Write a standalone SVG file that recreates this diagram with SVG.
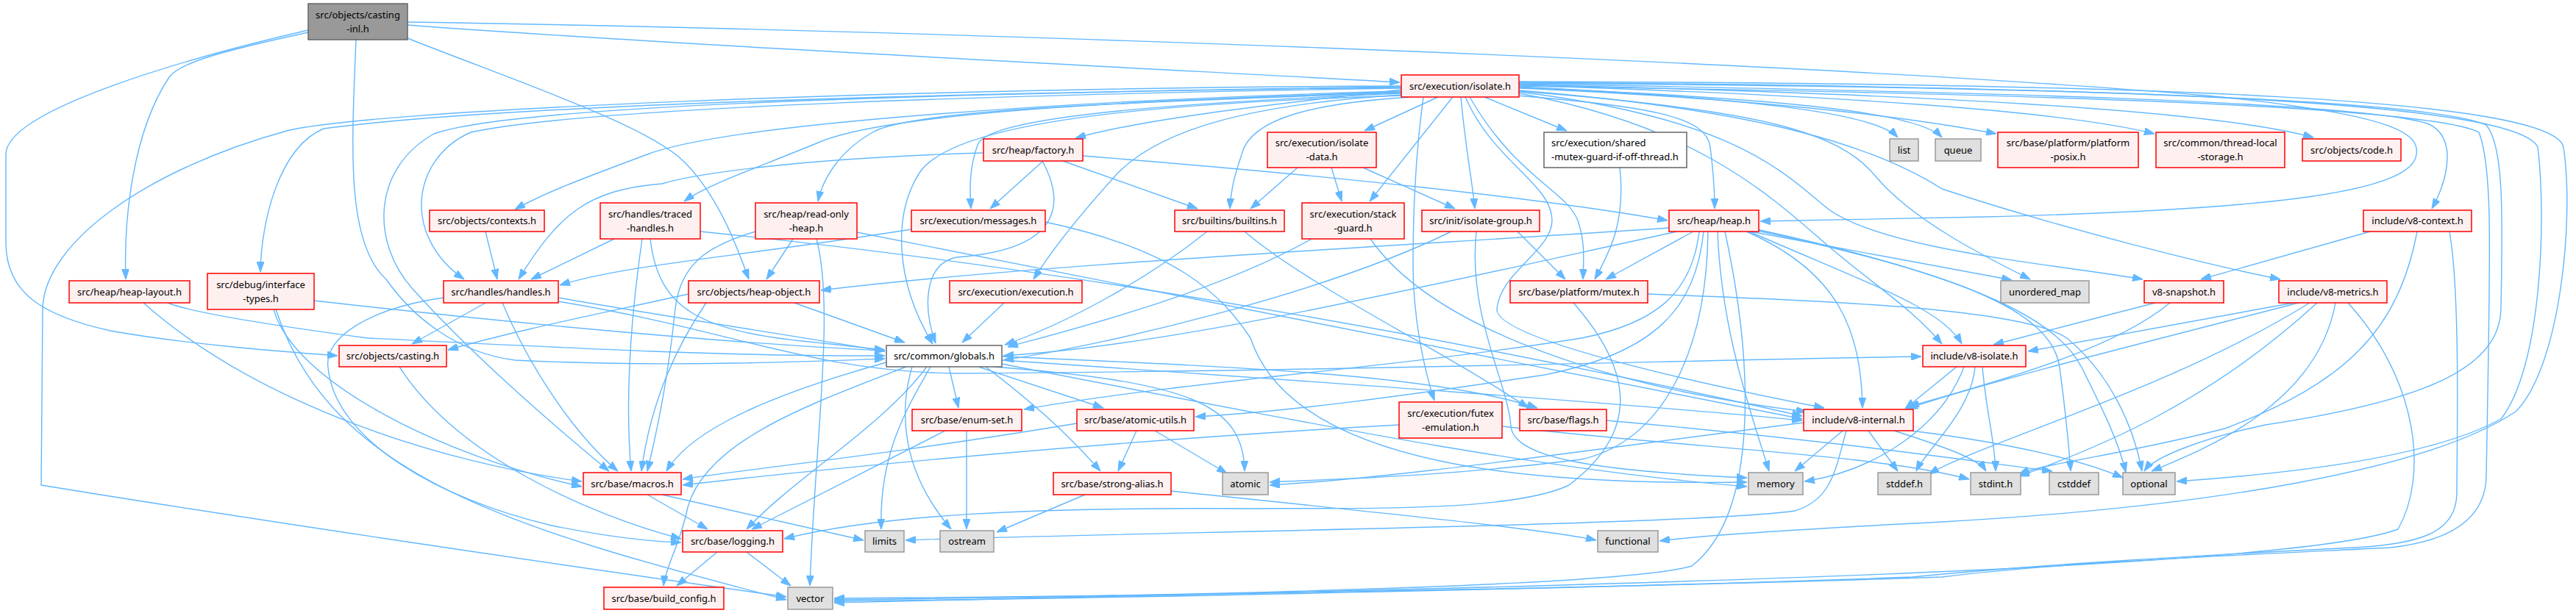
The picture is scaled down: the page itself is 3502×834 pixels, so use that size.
<svg xmlns="http://www.w3.org/2000/svg" width="3502" height="834" viewBox="0 0 3502 834">
<style>
.e path{fill:none;stroke:#63b8ff;stroke-width:1.4}
.r{fill:#fff0f0;stroke:#ff0000;stroke-width:1.5}
.g{fill:#e0e0e0;stroke:#999999;stroke-width:1.5}
.w{fill:#ffffff;stroke:#666666;stroke-width:1.5}
.root{fill:#999999;stroke:#666666;stroke-width:1.5}
text{font-family:"Noto Sans","Liberation Sans",sans-serif;font-size:13px;fill:#000;text-anchor:middle}
text.l{text-anchor:start}
</style>
<defs>
<marker id="a" markerWidth="14" markerHeight="10" refX="14" refY="5" orient="auto" markerUnits="userSpaceOnUse"><path d="M0,0 L14,5 L0,10 z" fill="#63b8ff" stroke="#63b8ff" stroke-width="1"/></marker>
</defs>
<rect width="3502" height="834" fill="#ffffff"/>
<g id="edges" class="e">
<path marker-end="url(#a)" d="M419,41 C250,80 8,150 8,210 L8,330 C8,400 60,430 150,450 C250,468 380,478 459,484"/>
<path marker-end="url(#a)" d="M419,44 C300,70 245,85 230,105 C180,180 168,300 171,380"/>
<path marker-end="url(#a)" d="M484,54 C478,200 470,330 525,380 C560,430 620,480 700,490 C900,500 1100,492 1203,488"/>
<path marker-end="url(#a)" d="M554,52 C700,110 880,170 930,220 C975,265 1000,330 1018,380"/>
<path marker-end="url(#a)" d="M554,34 C900,60 1500,90 1903,112"/>
<path marker-end="url(#a)" d="M554,30 C1200,40 2400,80 3000,130 C3250,155 3290,180 3285,210 C3280,260 3100,285 2700,295 C2550,298 2450,300 2393,301"/>
<path marker-end="url(#a)" d="M1905,122 C1750,140 1560,160 1462,188"/>
<path marker-end="url(#a)" d="M1905,124 C1500,135 1000,165 880,210 C800,240 740,262 700,285"/>
<path marker-end="url(#a)" d="M1905,125 C1500,138 1200,155 1110,195 C1020,232 960,252 930,274"/>
<path marker-end="url(#a)" d="M1905,126 C1500,140 1250,150 1190,178 C1140,205 1118,245 1112,274"/>
<path marker-end="url(#a)" d="M1905,127 C1600,140 1350,158 1330,195 C1318,225 1318,255 1320,284"/>
<path marker-end="url(#a)" d="M1918,132 C1790,140 1700,160 1688,210 C1678,240 1673,260 1672,284"/>
<path marker-end="url(#a)" d="M1905,129 C1700,142 1580,175 1520,235 C1470,290 1430,340 1405,380"/>
<path marker-end="url(#a)" d="M1905,118 C1400,125 700,140 440,175 C380,200 355,300 354,370"/>
<path marker-end="url(#a)" d="M1905,120 C1400,128 800,145 640,180 C560,215 545,320 631,380"/>
<path marker-end="url(#a)" d="M1905,130 C1600,140 1300,160 1250,235 C1215,290 1215,380 1268,468"/>
<path marker-end="url(#a)" d="M1905,119 C1300,126 700,142 590,182 C505,230 505,330 560,392 C630,470 730,560 828,641"/>
<path marker-end="url(#a)" d="M1905,117 C1200,120 500,150 390,178 C200,230 60,330 58,420 L56,660 C300,700 700,760 1069,812"/>
<path marker-end="url(#a)" d="M1955,132 L1855,178"/>
<path marker-end="url(#a)" d="M1975,132 L1862,274"/>
<path marker-end="url(#a)" d="M1986,132 C1992,200 2002,250 2005,284"/>
<path marker-end="url(#a)" d="M1998,132 C2060,240 2130,260 2145,300 C2155,330 2153,350 2152,380"/>
<path marker-end="url(#a)" d="M1992,132 C2030,220 2110,250 2110,300 C2110,340 2040,370 2035,420 C2030,460 2300,520 2480,555"/>
<path marker-end="url(#a)" d="M2018,132 L2130,178"/>
<path marker-end="url(#a)" d="M2062,130 C2250,145 2320,160 2325,200 C2330,240 2331,260 2331,284"/>
<path marker-end="url(#a)" d="M2065,118 C2400,135 2550,155 2580,187"/>
<path marker-end="url(#a)" d="M2065,119 C2450,135 2610,155 2640,187"/>
<path marker-end="url(#a)" d="M2065,120 C2400,135 2600,160 2714,182"/>
<path marker-end="url(#a)" d="M2065,116 C2500,130 2800,150 2929,182"/>
<path marker-end="url(#a)" d="M2065,115 C2600,128 3000,148 3145,187"/>
<path marker-end="url(#a)" d="M2065,114 C2700,125 3200,138 3300,168 C3340,185 3330,240 3306,284"/>
<path marker-end="url(#a)" d="M2065,113 C2800,118 3300,135 3380,170 C3405,200 3402,300 3400,420 C3398,500 3300,545 3080,578 C3000,595 2930,620 2915,641"/>
<path marker-end="url(#a)" d="M2065,112 C2900,118 3420,138 3450,200 C3462,300 3455,500 3400,570 C3300,625 3100,645 2959,655"/>
<path marker-end="url(#a)" d="M2065,111 C2950,113 3470,135 3485,200 C3500,300 3480,500 3420,560 C3300,640 3000,690 2640,710 C2450,720 2300,730 2256,736"/>
<path marker-end="url(#a)" d="M2065,117 C2800,128 3300,145 3370,180 C3390,230 3385,350 3380,650 C3378,700 3340,735 3250,745 C3050,755 2800,765 2640,785 C2200,800 1500,812 1134,814"/>
<path marker-end="url(#a)" d="M2065,124 C2400,150 2500,180 2550,240 C2600,300 2700,350 2760,380"/>
<path marker-end="url(#a)" d="M2065,125 C2350,160 2420,230 2480,280 C2550,340 2800,360 2913,380"/>
<path marker-end="url(#a)" d="M2065,123 C2400,150 2550,200 2640,257 C2800,310 3000,360 3100,380"/>
<path marker-end="url(#a)" d="M2065,127 C2300,170 2400,260 2480,330 C2550,390 2600,420 2640,468"/>
<path marker-end="url(#a)" d="M1935,132 C1923,220 1921,300 1921,360 C1921,430 1935,500 1950,545"/>
<path marker-end="url(#a)" d="M2302,315 L2183,380"/>
<path marker-end="url(#a)" d="M2269,310 C1900,335 1400,360 1116,395"/>
<path marker-end="url(#a)" d="M2280,315 C1980,380 1600,470 1364,484"/>
<path marker-end="url(#a)" d="M2374,315 C2500,370 2530,450 2532,555"/>
<path marker-end="url(#a)" d="M2378,315 C2550,390 2640,420 2667,468"/>
<path marker-end="url(#a)" d="M2380,315 L2735,381"/>
<path marker-end="url(#a)" d="M2310,315 C2300,400 2250,440 2150,460 C1900,500 1600,520 1392,557"/>
<path marker-end="url(#a)" d="M2316,315 C2305,420 2250,480 2100,510 C1900,540 1750,560 1625,567"/>
<path marker-end="url(#a)" d="M2322,315 C2320,480 2260,600 2150,625 C1950,650 1800,652 1726,656"/>
<path marker-end="url(#a)" d="M2335,315 C2340,450 2380,560 2405,641"/>
<path marker-end="url(#a)" d="M2388,312 C2700,380 2800,440 2830,500 C2860,560 2880,600 2890,643"/>
<path marker-end="url(#a)" d="M2345,315 C2385,500 2390,700 2300,770 C2200,800 1500,812 1134,816"/>
<path marker-end="url(#a)" d="M2390,314 C2650,370 2790,420 2800,500 C2808,560 2812,600 2815,641"/>
<path marker-end="url(#a)" d="M1418,219 L1346,284"/>
<path marker-end="url(#a)" d="M1445,219 L1628,284"/>
<path marker-end="url(#a)" d="M1472,212 C1800,238 2100,270 2267,300"/>
<path marker-end="url(#a)" d="M1337,208 C1100,215 950,235 900,250 C800,258 760,290 705,380"/>
<path marker-end="url(#a)" d="M1417,219 C1450,280 1440,340 1300,350 C1255,360 1255,420 1272,467"/>
<path marker-end="url(#a)" d="M660,315 L676,380"/>
<path marker-end="url(#a)" d="M835,325 L722,380"/>
<path marker-end="url(#a)" d="M873,325 C855,450 850,550 858,641"/>
<path marker-end="url(#a)" d="M952,315 C1300,350 1800,420 2450,566"/>
<path marker-end="url(#a)" d="M884,325 C895,420 950,450 1100,465 C1150,470 1180,474 1203,476"/>
<path marker-end="url(#a)" d="M1078,325 L1042,380"/>
<path marker-end="url(#a)" d="M1110,325 C1135,420 1108,600 1101,797"/>
<path marker-end="url(#a)" d="M1027,315 C960,335 925,360 918,420 C910,500 895,580 880,641"/>
<path marker-end="url(#a)" d="M1165,316 C1500,380 1900,460 2450,570"/>
<path marker-end="url(#a)" d="M1239,312 C1000,350 850,360 761,388"/>
<path marker-end="url(#a)" d="M1421,302 C1600,340 1660,400 1700,460 C1760,640 2100,660 2375,656"/>
<path marker-end="url(#a)" d="M1641,315 C1560,380 1450,440 1366,469"/>
<path marker-end="url(#a)" d="M1692,315 C1780,390 1950,470 2078,555"/>
<path marker-end="url(#a)" d="M1810,228 L1824,274"/>
<path marker-end="url(#a)" d="M1853,228 L1978,284"/>
<path marker-end="url(#a)" d="M1764,228 L1700,284"/>
<path marker-end="url(#a)" d="M1783,325 C1650,400 1450,450 1370,472"/>
<path marker-end="url(#a)" d="M1863,325 C1950,450 2200,530 2456,560"/>
<path marker-end="url(#a)" d="M2063,315 L2128,380"/>
<path marker-end="url(#a)" d="M1973,315 C1800,400 1500,470 1364,490"/>
<path marker-end="url(#a)" d="M2007,315 C1995,430 2050,520 2054,580 C2058,620 2150,640 2375,650"/>
<path marker-end="url(#a)" d="M2202,228 C2210,300 2190,340 2168,380"/>
<path marker-end="url(#a)" d="M3222,315 L2992,380"/>
<path marker-end="url(#a)" d="M3286,315 C3260,450 3190,520 3025,583 C2880,620 2780,630 2745,645"/>
<path marker-end="url(#a)" d="M3330,315 C3345,400 3340,600 3340,670 C3340,720 3300,740 3200,745 C2900,760 2700,775 2600,785 C2200,800 1500,814 1134,818"/>
<path marker-end="url(#a)" d="M3118,412 L2757,478"/>
<path marker-end="url(#a)" d="M3125,412 C2900,470 2700,520 2593,556"/>
<path marker-end="url(#a)" d="M3150,412 C3000,550 2850,610 2745,648"/>
<path marker-end="url(#a)" d="M3140,412 C2950,530 2700,600 2622,645"/>
<path marker-end="url(#a)" d="M3175,412 C3150,550 3000,610 2925,641"/>
<path marker-end="url(#a)" d="M3192,412 C3290,520 3300,650 3260,720 C3100,780 2000,800 1134,820"/>
<path marker-end="url(#a)" d="M2930,412 L2710,469"/>
<path marker-end="url(#a)" d="M2950,412 C2880,470 2750,510 2595,553"/>
<path marker-end="url(#a)" d="M2660,499 L2590,556"/>
<path marker-end="url(#a)" d="M2695,499 C2700,560 2712,600 2713,641"/>
<path marker-end="url(#a)" d="M2670,499 C2640,580 2550,640 2453,655"/>
<path marker-end="url(#a)" d="M2685,499 C2680,560 2620,610 2605,641"/>
<path marker-end="url(#a)" d="M2505,586 L2440,641"/>
<path marker-end="url(#a)" d="M2540,586 L2580,641"/>
<path marker-end="url(#a)" d="M2575,586 C2650,610 2690,625 2700,641"/>
<path marker-end="url(#a)" d="M2598,586 C2750,605 2840,630 2886,650"/>
<path marker-end="url(#a)" d="M2452,575 C2100,620 1900,650 1726,660"/>
<path marker-end="url(#a)" d="M2510,586 C2495,640 2490,680 2440,695 C2300,715 1500,725 1231,735"/>
<path marker-end="url(#a)" d="M1290,499 L1303,555"/>
<path marker-end="url(#a)" d="M1330,499 L1500,555"/>
<path marker-end="url(#a)" d="M1340,499 C1420,560 1460,600 1496,641"/>
<path marker-end="url(#a)" d="M1350,499 C1620,520 1690,550 1692,641"/>
<path marker-end="url(#a)" d="M1260,499 C1200,580 1080,650 1015,720"/>
<path marker-end="url(#a)" d="M1265,499 C1230,560 1195,620 1198,720"/>
<path marker-end="url(#a)" d="M1240,499 C1222,560 1225,640 1293,720"/>
<path marker-end="url(#a)" d="M1232,499 C1100,550 960,600 935,690 C925,740 905,770 902,797"/>
<path marker-end="url(#a)" d="M1205,493 C1000,550 930,600 906,641"/>
<path marker-end="url(#a)" d="M1362,490 C1800,520 2200,548 2450,572"/>
<path marker-end="url(#a)" d="M1362,485 C1700,500 1950,510 2090,555"/>
<path marker-end="url(#a)" d="M1362,495 C1800,580 2100,640 2375,662"/>
<path marker-end="url(#a)" d="M1285,586 L1022,720"/>
<path marker-end="url(#a)" d="M1314,586 L1314,720"/>
<path marker-end="url(#a)" d="M1545,586 L1520,641"/>
<path marker-end="url(#a)" d="M1570,586 L1668,644"/>
<path marker-end="url(#a)" d="M1464,576 C1200,620 1000,640 928,652"/>
<path marker-end="url(#a)" d="M1475,673 L1355,724"/>
<path marker-end="url(#a)" d="M1592,668 C1900,700 2100,720 2170,735"/>
<path marker-end="url(#a)" d="M880,673 L962,720"/>
<path marker-end="url(#a)" d="M900,673 L1174,735"/>
<path marker-end="url(#a)" d="M975,751 L920,797"/>
<path marker-end="url(#a)" d="M1015,751 L1075,797"/>
<path marker-end="url(#a)" d="M543,499 C620,620 800,700 926,733"/>
<path marker-end="url(#a)" d="M660,412 L560,468"/>
<path marker-end="url(#a)" d="M683,412 C720,500 780,590 840,641"/>
<path marker-end="url(#a)" d="M759,405 C900,430 1100,460 1203,478"/>
<path marker-end="url(#a)" d="M603,405 C500,420 440,460 446,500 C455,600 600,680 750,715 C850,735 900,737 926,738"/>
<path marker-end="url(#a)" d="M759,410 C1000,450 1100,505 1300,508 C1800,505 2300,490 2612,485"/>
<path marker-end="url(#a)" d="M936,400 C800,430 700,450 609,476"/>
<path marker-end="url(#a)" d="M960,412 C900,500 880,580 872,641"/>
<path marker-end="url(#a)" d="M1080,412 L1230,466"/>
<path marker-end="url(#a)" d="M1365,412 L1308,466"/>
<path marker-end="url(#a)" d="M228,412 C260,425 350,440 500,460 C800,475 1000,485 1203,484"/>
<path marker-end="url(#a)" d="M195,412 C350,550 600,630 791,655"/>
<path marker-end="url(#a)" d="M427,409 C700,440 1000,468 1203,477"/>
<path marker-end="url(#a)" d="M372,421 C400,520 600,620 791,662"/>
<path marker-end="url(#a)" d="M375,421 C450,650 700,720 1069,816"/>
<path marker-end="url(#a)" d="M1902,578 C1500,600 1100,640 928,660"/>
<path marker-end="url(#a)" d="M2042,580 C2300,610 2550,618 2677,652"/>
<path marker-end="url(#a)" d="M2184,572 C2500,600 2700,630 2790,641"/>
<path marker-end="url(#a)" d="M2139,412 C2225,510 2225,590 2133,660 C2050,700 1800,690 1700,692 C1400,690 1200,700 1066,733"/>
<path marker-end="url(#a)" d="M2240,400 C2500,410 2750,420 2810,460 C2870,510 2900,580 2912,641"/>
</g>
<g id="n_casting_inl"><rect class="root" x="419" y="5" width="135" height="49"/><text x="486.5" y="24.5">src/objects/casting</text><text x="486.5" y="43.5">-inl.h</text></g>
<g id="n_isolate"><rect class="r" x="1905" y="102" width="160" height="30"/><text x="1985" y="121.5">src/execution/isolate.h</text></g>
<g id="n_factory"><rect class="r" x="1337" y="189" width="135" height="30"/><text x="1404.5" y="208.5">src/heap/factory.h</text></g>
<g id="n_isolate_data"><rect class="r" x="1723" y="180" width="148" height="48"/><text x="1797" y="199">src/execution/isolate</text><text x="1797" y="218">-data.h</text></g>
<g id="n_shared_mutex"><rect class="w" x="2099" y="180" width="194" height="48"/><text class="l" x="2109" y="199">src/execution/shared</text><text class="l" x="2109" y="218">-mutex-guard-if-off-thread.h</text></g>
<g id="n_list"><rect class="g" x="2569" y="189" width="39" height="30"/><text x="2588.5" y="208.5">list</text></g>
<g id="n_queue"><rect class="g" x="2631" y="189" width="62" height="30"/><text x="2662" y="208.5">queue</text></g>
<g id="n_platform_posix"><rect class="r" x="2716" y="180" width="191" height="48"/><text x="2811.5" y="199">src/base/platform/platform</text><text x="2811.5" y="218">-posix.h</text></g>
<g id="n_tls"><rect class="r" x="2931" y="180" width="175" height="48"/><text x="3018.5" y="199">src/common/thread-local</text><text x="3018.5" y="218">-storage.h</text></g>
<g id="n_code"><rect class="r" x="3130" y="189" width="134" height="30"/><text x="3197" y="208.5">src/objects/code.h</text></g>
<g id="n_contexts"><rect class="r" x="584" y="286" width="156" height="29"/><text x="662" y="305">src/objects/contexts.h</text></g>
<g id="n_traced_handles"><rect class="r" x="816" y="276" width="136" height="49"/><text x="884" y="295.5">src/handles/traced</text><text x="884" y="314.5">-handles.h</text></g>
<g id="n_read_only_heap"><rect class="r" x="1027" y="276" width="138" height="49"/><text x="1096" y="295.5">src/heap/read-only</text><text x="1096" y="314.5">-heap.h</text></g>
<g id="n_messages"><rect class="r" x="1239" y="286" width="182" height="29"/><text x="1330" y="305">src/execution/messages.h</text></g>
<g id="n_builtins"><rect class="r" x="1597" y="286" width="149" height="29"/><text x="1671.5" y="305">src/builtins/builtins.h</text></g>
<g id="n_stack_guard"><rect class="r" x="1770" y="276" width="139" height="49"/><text x="1839.5" y="295.5">src/execution/stack</text><text x="1839.5" y="314.5">-guard.h</text></g>
<g id="n_isolate_group"><rect class="r" x="1933" y="286" width="160" height="29"/><text x="2013" y="305">src/init/isolate-group.h</text></g>
<g id="n_heap"><rect class="r" x="2269" y="286" width="122" height="29"/><text x="2330" y="305">src/heap/heap.h</text></g>
<g id="n_v8_context"><rect class="r" x="3213" y="286" width="147" height="29"/><text x="3286.5" y="305">include/v8-context.h</text></g>
<g id="n_heap_layout"><rect class="r" x="94" y="382" width="164" height="30"/><text x="176" y="401.5">src/heap/heap-layout.h</text></g>
<g id="n_interface_types"><rect class="r" x="282" y="372" width="145" height="49"/><text x="354.5" y="391.5">src/debug/interface</text><text x="354.5" y="410.5">-types.h</text></g>
<g id="n_handles"><rect class="r" x="603" y="382" width="156" height="30"/><text x="681" y="401.5">src/handles/handles.h</text></g>
<g id="n_heap_object"><rect class="r" x="936" y="382" width="178" height="30"/><text x="1025" y="401.5">src/objects/heap-object.h</text></g>
<g id="n_execution"><rect class="r" x="1291" y="382" width="180" height="30"/><text x="1381" y="401.5">src/execution/execution.h</text></g>
<g id="n_mutex"><rect class="r" x="2053" y="382" width="187" height="30"/><text x="2146.5" y="401.5">src/base/platform/mutex.h</text></g>
<g id="n_unordered_map"><rect class="g" x="2720" y="382" width="120" height="30"/><text x="2780" y="401.5">unordered_map</text></g>
<g id="n_v8_snapshot"><rect class="r" x="2915" y="382" width="108" height="30"/><text x="2969" y="401.5">v8-snapshot.h</text></g>
<g id="n_v8_metrics"><rect class="r" x="3098" y="382" width="147" height="30"/><text x="3171.5" y="401.5">include/v8-metrics.h</text></g>
<g id="n_casting"><rect class="r" x="461" y="470" width="146" height="29"/><text x="534" y="489">src/objects/casting.h</text></g>
<g id="n_globals"><rect class="w" x="1205" y="470" width="157" height="29"/><text x="1283.5" y="489">src/common/globals.h</text></g>
<g id="n_v8_isolate"><rect class="r" x="2614" y="470" width="140" height="29"/><text x="2684" y="489">include/v8-isolate.h</text></g>
<g id="n_enum_set"><rect class="r" x="1240" y="557" width="149" height="29"/><text x="1314.5" y="576">src/base/enum-set.h</text></g>
<g id="n_atomic_utils"><rect class="r" x="1464" y="557" width="159" height="29"/><text x="1543.5" y="576">src/base/atomic-utils.h</text></g>
<g id="n_futex"><rect class="r" x="1902" y="547" width="140" height="49"/><text x="1972" y="566.5">src/execution/futex</text><text x="1972" y="585.5">-emulation.h</text></g>
<g id="n_flags"><rect class="r" x="2066" y="557" width="118" height="29"/><text x="2125" y="576">src/base/flags.h</text></g>
<g id="n_v8_internal"><rect class="r" x="2452" y="557" width="149" height="29"/><text x="2526.5" y="576">include/v8-internal.h</text></g>
<g id="n_macros"><rect class="r" x="793" y="643" width="133" height="30"/><text x="859.5" y="662.5">src/base/macros.h</text></g>
<g id="n_strong_alias"><rect class="r" x="1432" y="643" width="160" height="30"/><text x="1512" y="662.5">src/base/strong-alias.h</text></g>
<g id="n_atomic"><rect class="g" x="1662" y="643" width="62" height="30"/><text x="1693" y="662.5">atomic</text></g>
<g id="n_memory"><rect class="g" x="2377" y="643" width="74" height="30"/><text x="2414" y="662.5">memory</text></g>
<g id="n_stddef"><rect class="g" x="2553" y="643" width="72" height="30"/><text x="2589" y="662.5">stddef.h</text></g>
<g id="n_stdint"><rect class="g" x="2679" y="643" width="68" height="30"/><text x="2713" y="662.5">stdint.h</text></g>
<g id="n_cstddef"><rect class="g" x="2786" y="643" width="67" height="30"/><text x="2819.5" y="662.5">cstddef</text></g>
<g id="n_optional"><rect class="g" x="2886" y="643" width="71" height="30"/><text x="2921.5" y="662.5">optional</text></g>
<g id="n_logging"><rect class="r" x="928" y="722" width="136" height="29"/><text x="996" y="741">src/base/logging.h</text></g>
<g id="n_limits"><rect class="g" x="1176" y="722" width="53" height="29"/><text x="1202.5" y="741">limits</text></g>
<g id="n_ostream"><rect class="g" x="1278" y="722" width="73" height="29"/><text x="1314.5" y="741">ostream</text></g>
<g id="n_functional"><rect class="g" x="2172" y="722" width="82" height="29"/><text x="2213" y="741">functional</text></g>
<g id="n_build_config"><rect class="r" x="821" y="799" width="163" height="30"/><text x="902.5" y="818.5">src/base/build_config.h</text></g>
<g id="n_vector"><rect class="g" x="1071" y="799" width="61" height="30"/><text x="1101.5" y="818.5">vector</text></g>
</svg>
